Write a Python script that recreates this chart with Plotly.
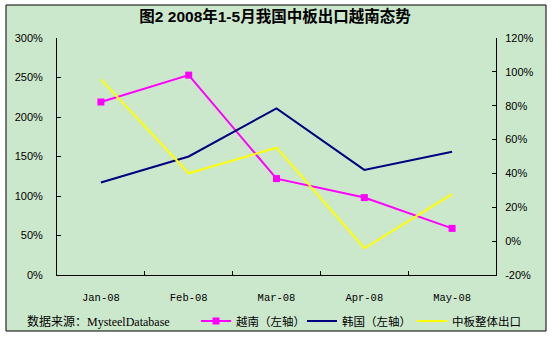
import plotly.graph_objects as go

months = ["Jan-08", "Feb-08", "Mar-08", "Apr-08", "May-08"]
vietnam = [2.19, 2.53, 1.22, 0.98, 0.59]      # 越南（左轴）
korea = [1.17, 1.50, 2.11, 1.33, 1.56]        # 韩国（左轴）
total = [0.956, 0.401, 0.552, -0.042, 0.278]  # 中板整体出口（右轴）

left_ticks = [0, 0.5, 1.0, 1.5, 2.0, 2.5, 3.0]
left_labels = ["0%", "50%", "100%", "150%", "200%", "250%", "300%"]
right_ticks = [-0.2, 0, 0.2, 0.4, 0.6, 0.8, 1.0, 1.2]
right_labels = ["-20%", "0%", "20%", "40%", "60%", "80%", "100%", "120%"]

BG = "rgb(204,232,204)"
W, H = 553, 338
L, R, T, B = 57, 496, 38, 275
pw, ph = R - L, B - T

def px(x):
    return (x - L) / pw

def py(y):
    return (B - y) / ph

fig = go.Figure()
fig.add_trace(go.Scatter(x=months, y=vietnam, name="越南（左轴）", mode="lines+markers",
                         line=dict(color="#FF00FF", width=2), legend="legend",
                         marker=dict(symbol="square", size=7, color="#FF00FF")))
fig.add_trace(go.Scatter(x=months, y=korea, name="韩国（左轴）", mode="lines",
                         line=dict(color="#000080", width=2), legend="legend2"))
fig.add_trace(go.Scatter(x=months, y=total, name="中板整体出口", mode="lines",
                         line=dict(color="#FFFF00", width=2), yaxis="y2", legend="legend3"))

leg_font = dict(family="Noto Sans CJK SC", size=11.5, color="black")

def leg(xpix):
    return dict(orientation="h", x=px(xpix), xanchor="left", y=py(321), yanchor="middle",
                bgcolor="rgba(0,0,0,0)", font=leg_font, itemwidth=30)

fig.update_layout(
    width=W, height=H,
    margin=dict(l=L, r=W - R, t=T, b=H - B, autoexpand=False),
    paper_bgcolor="white",
    plot_bgcolor="rgba(0,0,0,0)",
    showlegend=True,
    title=dict(text="<b>图2 2008年1-5月我国中板出口越南态势</b>",
               x=px(275), xanchor="center", xref="paper", y=1 - 17 / H, yanchor="middle",
               font=dict(family="Liberation Sans, Noto Sans CJK SC", size=15.5, color="black")),
    xaxis=dict(type="category", range=[-0.5, 4.5], tickson="boundaries",
               ticks="inside", ticklen=4, tickcolor="black", showgrid=False,
               showline=True, linecolor="black", linewidth=1, zeroline=False,
               ticklabelstandoff=12,
               tickfont=dict(family="Liberation Mono", size=10.5, color="black")),
    yaxis=dict(range=[0, 3], tickvals=left_ticks, ticktext=left_labels,
               ticks="inside", ticklen=4, tickcolor="black", showgrid=False,
               showline=True, linecolor="black", linewidth=1, zeroline=False,
               ticklabelstandoff=11,
               tickfont=dict(family="Liberation Sans", size=11, color="black")),
    yaxis2=dict(range=[-0.2, 1.2], tickvals=right_ticks, ticktext=right_labels,
                overlaying="y", side="right",
                ticks="inside", ticklen=4, tickcolor="black", showgrid=False,
                showline=True, linecolor="black", linewidth=1, zeroline=False,
                ticklabelstandoff=6,
                tickfont=dict(family="Liberation Sans", size=11, color="black")),
    legend=leg(196),
    legend2=leg(302),
    legend3=leg(412),
    shapes=[dict(type="rect", xref="paper", yref="paper", layer="below",
                 x0=px(6), x1=px(546), y0=py(331), y1=py(5),
                 fillcolor=BG, line=dict(color="black", width=1))],
    annotations=[dict(text="数据来源：MysteelDatabase", xref="paper", yref="paper",
                      x=px(25), y=py(321), xanchor="left", yanchor="middle", showarrow=False,
                      font=dict(family="Liberation Serif, Noto Sans CJK SC", size=12, color="black"))],
)

fig.write_html("out.html")
